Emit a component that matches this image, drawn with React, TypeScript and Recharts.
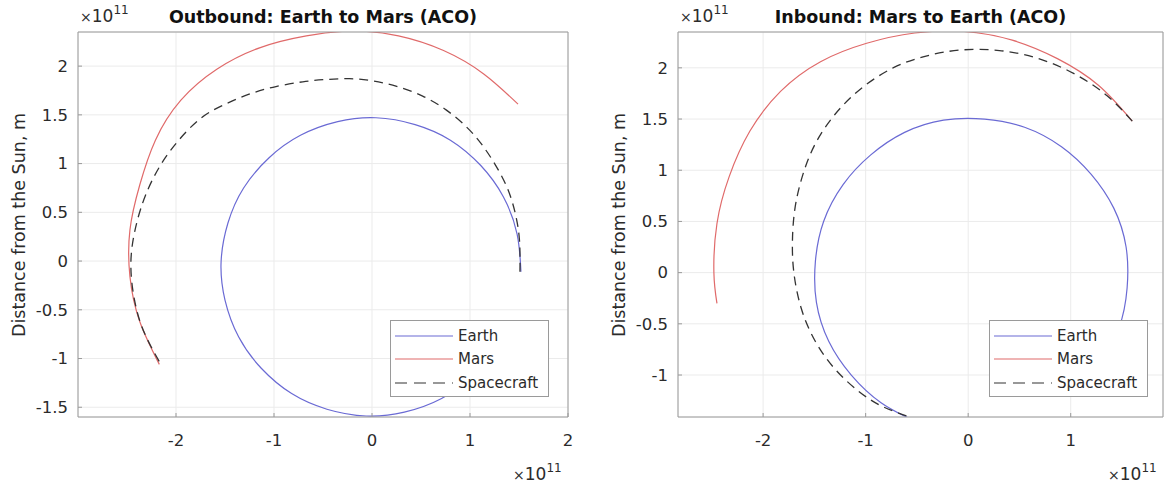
import { LineChart, Line, XAxis, YAxis, CartesianGrid, Legend } from 'recharts';

// all positions in units of 1e11 m

// Outbound: Earth to Mars
const outEarthX = [1.52, 1.48, 1.34, 1.11, 0.8, 0.44, 0.04, -0.35, -0.73, -1.05, -1.31, -1.47, -1.54, -1.5, -1.36, -1.13, -0.82, -0.46, -0.06, 0.33, 0.71, 1.03, 1.24];
const outEarthY = [-0.11, 0.28, 0.66, 0.98, 1.24, 1.4, 1.47, 1.43, 1.29, 1.06, 0.75, 0.39, -0.01, -0.4, -0.78, -1.1, -1.36, -1.52, -1.59, -1.55, -1.41, -1.18, -0.94];
const outMarsX = [1.49, 1.14, 0.73, 0.27, -0.2, -0.67, -1.14, -1.58, -1.95, -2.21, -2.37, -2.47, -2.47, -2.37, -2.17];
const outMarsY = [1.61, 1.92, 2.16, 2.31, 2.36, 2.31, 2.19, 1.97, 1.65, 1.24, 0.78, 0.32, -0.16, -0.62, -1.06];
const outCraftX = [1.51, 1.505, 1.465, 1.386, 1.26, 1.118, 0.964, 0.756, 0.517, 0.252, 0.0, -0.23, -0.465, -0.706, -0.98, -1.245, -1.5, -1.746, -1.976, -2.147, -2.283, -2.393, -2.46, -2.418, -2.316, -2.148];
const outCraftY = [-0.11, 0.21, 0.476, 0.736, 0.985, 1.199, 1.376, 1.551, 1.692, 1.792, 1.85, 1.871, 1.863, 1.839, 1.79, 1.715, 1.608, 1.466, 1.235, 1.002, 0.742, 0.422, 0.0, -0.427, -0.752, -1.071];
const outXTicks = [-2, -1, 0, 1, 2];
const outYTicks = [-1.5, -1, -0.5, 0, 0.5, 1, 1.5, 2];

// Inbound: Mars to Earth
const inEarthX = [1.28, 1.47, 1.55, 1.54, 1.42, 1.2, 0.91, 0.55, 0.16, -0.24, -0.62, -0.95, -1.22, -1.41, -1.49, -1.48, -1.36, -1.14, -0.85, -0.54];
const inEarthY = [-0.9, -0.54, -0.15, 0.25, 0.63, 0.96, 1.23, 1.42, 1.5, 1.49, 1.37, 1.15, 0.86, 0.5, 0.11, -0.29, -0.67, -1.0, -1.27, -1.44];
const inMarsX = [1.6, 1.27, 0.87, 0.43, -0.04, -0.52, -0.99, -1.44, -1.83, -2.13, -2.33, -2.45, -2.48, -2.45];
const inMarsY = [1.48, 1.83, 2.09, 2.27, 2.355, 2.34, 2.24, 2.06, 1.77, 1.38, 0.94, 0.48, 0.0, -0.3];
const inCraftX = [1.6, 1.352, 1.033, 0.68, 0.305, -0.076, -0.411, -0.728, -1.04, -1.298, -1.494, -1.619, -1.691, -1.714, -1.7, -1.629, -1.494, -1.298, -1.054, -0.821, -0.545];
const inCraftY = [1.48, 1.73, 1.943, 2.092, 2.169, 2.174, 2.115, 2.002, 1.801, 1.547, 1.253, 0.935, 0.616, 0.302, 0.0, -0.346, -0.665, -0.943, -1.17, -1.314, -1.419];
const inXTicks = [-2, -1, 0, 1];
const inYTicks = [-1, -0.5, 0, 0.5, 1, 1.5, 2];

const zip = (xs: number[], ys: number[]) => xs.map((x, i) => ({ x, y: ys[i] }));

const FONT = '"DejaVu Sans", Arial, sans-serif';
const TEXT = '#2b2b2b';
const FRAME = '#9a9a9a';
const EARTH = '#6a6ad4';
const MARS = '#e06a6a';
const CRAFT = '#333333';

const OrbitLegend = (props: any) => {
  const items = props.payload || [];
  return (
    <div
      style={{
        width: 159,
        height: 77,
        boxSizing: 'border-box',
        border: `1px solid ${FRAME}`,
        background: '#fff',
        paddingTop: 3,
        fontFamily: FONT,
        fontSize: 15,
        color: TEXT,
      }}
    >
      {items.map((entry: any) => (
        <div key={entry.value} style={{ display: 'flex', alignItems: 'center', height: 23.5 }}>
          <svg width={67} height={10} style={{ display: 'block' }}>
            <line
              x1={4}
              x2={62}
              y1={5}
              y2={5}
              stroke={entry.color}
              strokeWidth={1.2}
              strokeDasharray={entry.payload && entry.payload.strokeDasharray ? '12 7' : undefined}
            />
          </svg>
          <span style={{ lineHeight: '16px' }}>{entry.value}</span>
        </div>
      ))}
    </div>
  );
};

const Exp = ({ left, top }: { left: number; top: number }) => (
  <div style={{ position: 'absolute', left, top, fontFamily: FONT, fontSize: 17, color: TEXT, lineHeight: '18px', whiteSpace: 'nowrap' }}>
    <span style={{ fontSize: 14 }}>×</span>10
    <span style={{ fontSize: 12, position: 'relative', top: -8 }}>11</span>
  </div>
);

interface PanelProps {
  left: number;
  width: number;
  marginRight: number;
  title: string;
  xDomain: [number, number];
  yDomain: [number, number];
  xTicks: number[];
  yTicks: number[];
  earth: { x: number; y: number }[];
  mars: { x: number; y: number }[];
  craft: { x: number; y: number }[];
  legendLeft: number;
}

const Panel = (p: PanelProps) => {
  const plotLeft = 78;
  const plotRight = p.width - p.marginRight - 1;
  const center = (plotLeft + plotRight) / 2;
  const tickStyle = { fill: TEXT, fontSize: 16.5, fontFamily: FONT };
  return (
    <div style={{ position: 'absolute', left: p.left, top: 0, width: p.width, height: 486 }}>
      <LineChart width={p.width} height={486} margin={{ top: 31, right: p.marginRight, bottom: 39, left: 8 }}>
        <CartesianGrid stroke="#ebebeb" />
        <XAxis
          type="number"
          dataKey="x"
          domain={p.xDomain}
          ticks={p.xTicks}
          interval={0}
          allowDataOverflow
          height={30}
          stroke={FRAME}
          tickSize={-4}
          tickMargin={21}
          tick={tickStyle}
        />
        <XAxis
          xAxisId="top"
          orientation="top"
          type="number"
          dataKey="x"
          domain={p.xDomain}
          ticks={p.xTicks}
          interval={0}
          allowDataOverflow
          height={1}
          stroke={FRAME}
          tickSize={-4}
          tick={false}
        />
        <YAxis
          type="number"
          dataKey="y"
          domain={p.yDomain}
          ticks={p.yTicks}
          interval={0}
          allowDataOverflow
          width={70}
          stroke={FRAME}
          tickSize={-4}
          tickMargin={14}
          tick={tickStyle}
        />
        <YAxis
          yAxisId="right"
          orientation="right"
          type="number"
          dataKey="y"
          domain={p.yDomain}
          ticks={p.yTicks}
          interval={0}
          allowDataOverflow
          width={1}
          stroke={FRAME}
          tickSize={-4}
          tick={false}
        />
        <Line data={p.earth} dataKey="y" name="Earth" type="natural" stroke={EARTH} strokeWidth={1.2} dot={false} activeDot={false} isAnimationActive={false} />
        <Line data={p.mars} dataKey="y" name="Mars" type="natural" stroke={MARS} strokeWidth={1.2} dot={false} activeDot={false} isAnimationActive={false} />
        <Line data={p.craft} dataKey="y" name="Spacecraft" type="natural" stroke={CRAFT} strokeWidth={1.3} strokeDasharray="9 6" dot={false} activeDot={false} isAnimationActive={false} />
        <Legend
          layout="vertical"
          align="center"
          verticalAlign="middle"
          wrapperStyle={{ left: p.legendLeft, top: 320, width: 159, height: 77 }}
          content={OrbitLegend}
        />
      </LineChart>
      <div
        style={{
          position: 'absolute',
          left: center - 250,
          width: 500,
          top: 8,
          textAlign: 'center',
          fontFamily: FONT,
          fontWeight: 'bold',
          fontSize: 17.5,
          lineHeight: '18px',
          color: '#111',
        }}
      >
        {p.title}
      </div>
      <div
        style={{
          position: 'absolute',
          left: 19,
          top: 225,
          transform: 'translate(-50%, -50%) rotate(-90deg)',
          fontFamily: FONT,
          fontSize: 17.5,
          color: TEXT,
          whiteSpace: 'nowrap',
        }}
      >
        Distance from the Sun, m
      </div>
      <Exp left={plotLeft + 2} top={7} />
      <Exp left={plotRight - 55} top={465} />
    </div>
  );
};

export default function App() {
  return (
    <div style={{ position: 'absolute', left: 0, top: 0, width: 1176, height: 486, background: '#fff', overflow: 'hidden' }}>
      <Panel
        left={0}
        width={600}
        marginRight={31}
        title="Outbound: Earth to Mars (ACO)"
        xDomain={[-3, 2]}
        yDomain={[-1.6, 2.35]}
        xTicks={outXTicks}
        yTicks={outYTicks}
        earth={zip(outEarthX, outEarthY)}
        mars={zip(outMarsX, outMarsY)}
        craft={zip(outCraftX, outCraftY)}
        legendLeft={390}
      />
      <Panel
        left={600}
        width={576}
        marginRight={12}
        title="Inbound: Mars to Earth (ACO)"
        xDomain={[-2.83, 1.9]}
        yDomain={[-1.41, 2.35]}
        xTicks={inXTicks}
        yTicks={inYTicks}
        earth={zip(inEarthX, inEarthY)}
        mars={zip(inMarsX, inMarsY)}
        craft={zip(inCraftX, inCraftY)}
        legendLeft={389}
      />
    </div>
  );
}
